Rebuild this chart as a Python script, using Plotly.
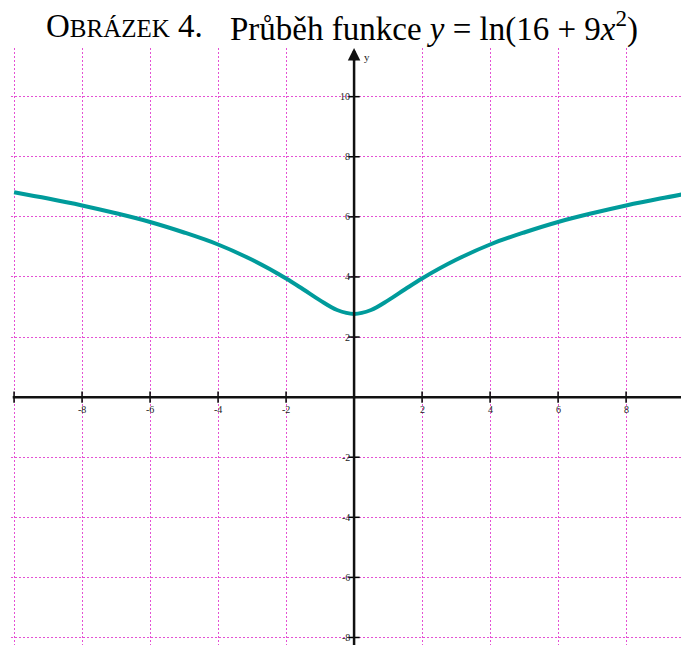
import plotly.graph_objects as go

# Values
x_vals = [-10, -9, -8, -7, -6, -5, -4, -3, -2, -1.5, -1, -0.5, 0, 0.5, 1, 1.5, 2, 3, 4, 5, 6, 7, 8, 9, 10]
y_vals = [6.82, 6.61, 6.38, 6.12, 5.83, 5.48, 5.08, 4.57, 3.95, 3.59, 3.22, 2.90, 2.77, 2.90, 3.22, 3.59, 3.95, 4.57, 5.08, 5.48, 5.83, 6.12, 6.38, 6.61, 6.82]

x_ticks = [-8, -6, -4, -2, 2, 4, 6, 8]
x_tick_labels = ["-8", "-6", "-4", "-2", "2", "4", "6", "8"]
y_ticks = [-8, -6, -4, -2, 2, 4, 6, 8, 10]
y_tick_labels = ["-8", "-6", "-4", "-2", "2", "4", "6", "8", "10"]

X_RANGE = [-10.09, 9.85]
Y_RANGE = [-8.25, 11.62]

SERIF = "Liberation Serif"
TITLE_FONT = "Liberation Serif"

fig = go.Figure()

fig.add_trace(go.Scatter(
    x=x_vals, y=y_vals, mode="lines",
    line=dict(color="#009b9b", width=4, shape="spline", smoothing=1.0),
    hoverinfo="skip", showlegend=False,
))

# tick marks on axes
fig.add_trace(go.Scatter(
    x=x_ticks + [-10], y=[0] * (len(x_ticks) + 1), mode="markers",
    marker=dict(symbol="line-ns", size=8, line=dict(color="black", width=1.5)),
    hoverinfo="skip", showlegend=False,
))
fig.add_trace(go.Scatter(
    x=[0] * len(y_ticks), y=y_ticks, mode="markers",
    marker=dict(symbol="line-ew", size=8, line=dict(color="black", width=1.5)),
    hoverinfo="skip", showlegend=False,
))

shapes = [
    dict(type="line", xref="x", yref="y", x0=X_RANGE[0] + 0.05, x1=X_RANGE[1], y0=0, y1=0,
         line=dict(color="#111", width=2.5), layer="above"),
    dict(type="line", xref="x", yref="y", x0=0, x1=0, y0=Y_RANGE[0], y1=Y_RANGE[1] - 0.1,
         line=dict(color="#111", width=2.5), layer="above"),
]

annotations = []
for v, t in zip(x_ticks, x_tick_labels):
    annotations.append(dict(x=v, y=0, xref="x", yref="y", text=t, showarrow=False,
                            xanchor="center", yanchor="top", yshift=-5,
                            font=dict(family=SERIF, size=10, color="#222")))
for v, t in zip(y_ticks, y_tick_labels):
    annotations.append(dict(x=0, y=v, xref="x", yref="y", text=t, showarrow=False,
                            xanchor="right", yanchor="middle", xshift=-2,
                            font=dict(family=SERIF, size=10, color="#222")))
# axis names
annotations.append(dict(x=0, y=Y_RANGE[1], xref="x", yref="y", text="y", showarrow=False,
                        xanchor="left", yanchor="top", xshift=8, yshift=-1,
                        font=dict(family=SERIF, size=11, color="#222")))
annotations.append(dict(x=X_RANGE[1], y=0, xref="x", yref="y", text="x", showarrow=False,
                        xanchor="right", yanchor="bottom", xshift=0, yshift=4,
                        font=dict(family=SERIF, size=11, color="#222")))
# arrow at top of y axis
annotations.append(dict(x=0, y=Y_RANGE[1], xref="x", yref="y", ax=0, ay=14, text="",
                        showarrow=True, arrowhead=2, arrowsize=1, arrowwidth=2.5, arrowcolor="#111"))

# title, in two pieces
annotations.append(dict(
    x=0.049, y=1, xref="paper", yref="paper", xanchor="left", yanchor="middle", yshift=22,
    showarrow=False, text="O<span style='font-size:25px'>BRÁZEK</span> 4.",
    font=dict(family=TITLE_FONT, size=33, color="black"),
))
annotations.append(dict(
    x=0.320, y=1, xref="paper", yref="paper", xanchor="left", yanchor="middle", yshift=22,
    showarrow=False, text="Průběh funkce <i>y</i> = ln(16 + 9<i>x</i><sup>2</sup>)",
    font=dict(family=TITLE_FONT, size=33, color="black"),
))

grid = dict(showgrid=True, gridcolor="rgba(225,50,205,0.85)", griddash="2px,2px", gridwidth=1,
            zeroline=False, showticklabels=False, ticks="", showline=False)

# the page body has a default 8px margin, so the figure is sized to fit the window
fig.update_layout(
    width=681, height=638,
    margin=dict(l=3, r=0, t=40, b=1),
    paper_bgcolor="white", plot_bgcolor="white",
    font=dict(family=SERIF),
    xaxis=dict(range=X_RANGE, tickvals=[-10, -8, -6, -4, -2, 2, 4, 6, 8], **grid),
    yaxis=dict(range=Y_RANGE, tickvals=[-8, -6, -4, -2, 2, 4, 6, 8, 10], **grid),
    shapes=shapes, annotations=annotations, showlegend=False,
)

fig.write_html("out.html")
